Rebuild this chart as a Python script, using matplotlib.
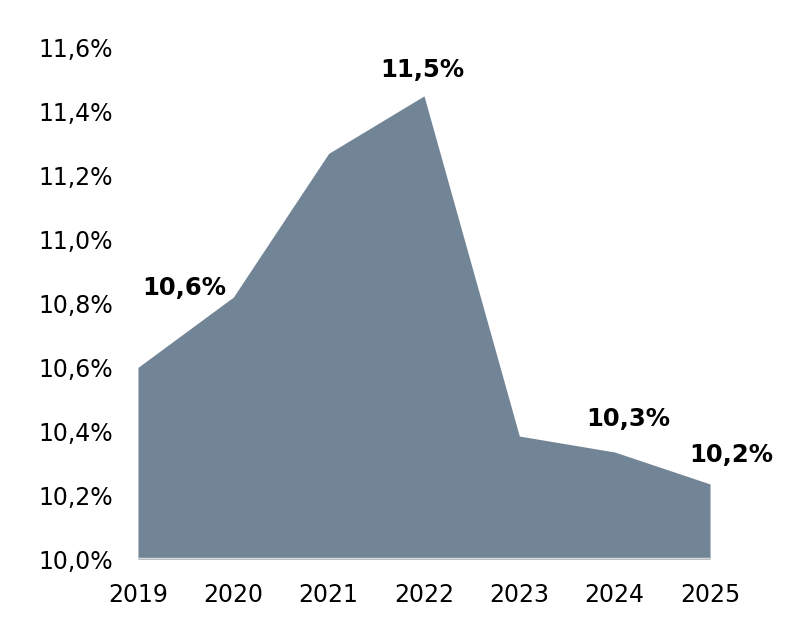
import matplotlib
matplotlib.use("Agg")
import matplotlib.pyplot as plt
from matplotlib.ticker import FuncFormatter

# --- DATA ---
years = [2019, 2020, 2021, 2022, 2023, 2024, 2025]
values = [10.60, 10.82, 11.27, 11.45, 10.385, 10.335, 10.235]
label_years = [2019, 2022, 2024, 2025]
label_texts = ["10,6%", "11,5%", "10,3%", "10,2%"]
label_offsets = [(33, 57), (-1, 18.5), (10, 24), (15, 21)]  # points
y_ticks = [10.0, 10.2, 10.4, 10.6, 10.8, 11.0, 11.2, 11.4, 11.6]

FILL = '#728597'

fig = plt.figure(figsize=(7.92, 6.38), dpi=100)
ax = fig.add_axes([0.1742, 0.1238, 0.7223, 0.801])

ax.fill_between(years, values, 10.0, color=FILL, linewidth=0)
ax.axhline(10.0, color='#d9d9d9', linewidth=2.5, zorder=3)

ax.set_xlim(years[0], years[-1])
ax.set_ylim(10.0, 11.6)
ax.set_xticks(years)
ax.set_yticks(y_ticks)
ax.yaxis.set_major_formatter(FuncFormatter(lambda v, p: f"{v:.1f}%".replace('.', ',')))

for s in ax.spines.values():
    s.set_visible(False)
ax.tick_params(length=0, labelsize=17)
ax.tick_params(axis='x', pad=17)
ax.tick_params(axis='y', pad=18)

for yr, txt, off in zip(label_years, label_texts, label_offsets):
    v = values[years.index(yr)]
    ax.annotate(txt, (yr, v), xytext=off, textcoords='offset points',
                ha='center', va='center', fontsize=17.5, fontweight='bold',
                annotation_clip=False)

fig.savefig("out.png", dpi=100)
